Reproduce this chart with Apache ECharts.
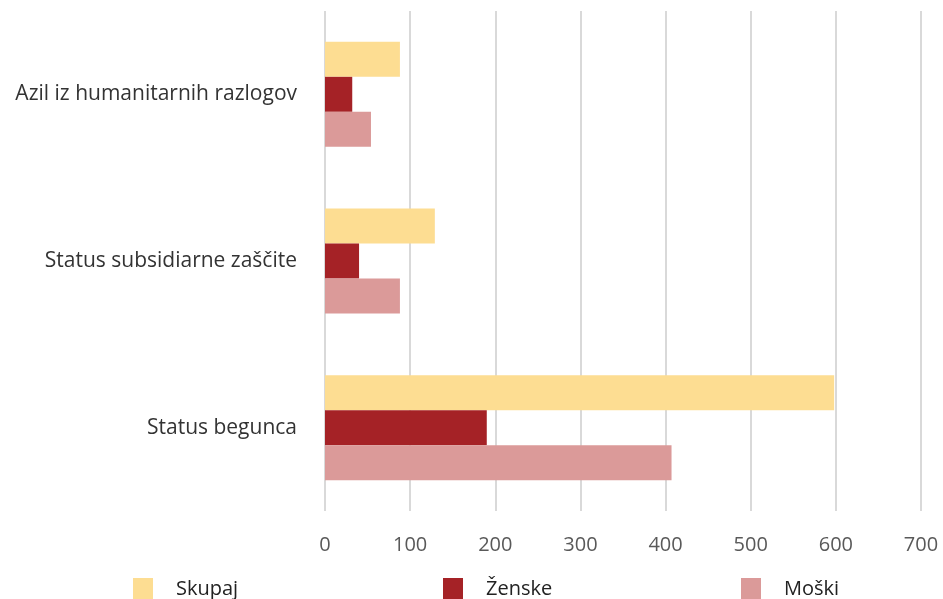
<!DOCTYPE html>
<html>
<head>
<meta charset="utf-8">
<script src="https://cdn.jsdelivr.net/npm/echarts@6/dist/echarts.min.js"></script>
<style>
html, body { margin: 0; padding: 0; background: #fff; }
#chart { width: 943px; height: 599px; }
</style>
</head>
<body>
<div id="chart"></div>
<script>
// kategorije od spodaj navzgor
let categories = ['Status begunca', 'Status subsidiarne zaščite', 'Azil iz humanitarnih razlogov'];
let skupaj = [598, 129, 88];
let zenske = [190, 40, 32];
let moski = [407, 88, 54];
let xTicks = [0, 100, 200, 300, 400, 500, 600, 700];

let font = 'Open Sans';
let mychart = echarts.init(document.getElementById('chart'));

function legendAt(name, left) {
    return {
        data: [name],
        left: left,
        top: 573,
        itemWidth: 20,
        itemHeight: 22,
        itemGap: 20,
        icon: 'rect',
        textStyle: { fontFamily: font, fontSize: 20, color: '#222', padding: [0, 0, 0, 18] }
    };
}

let option = {
    animation: false,
    legend: [
        legendAt('Skupaj', 128),
        legendAt('Ženske', 438),
        legendAt('Moški', 736)
    ],
    grid: {
        left: 325,
        right: 22,
        top: 11,
        bottom: 88,
        containLabel: false
    },
    xAxis: {
        type: 'value',
        min: xTicks[0],
        max: xTicks[xTicks.length - 1],
        interval: 100,
        axisLine: { show: false },
        axisTick: { show: false },
        axisLabel: { fontFamily: font, fontSize: 20, color: '#595959', margin: 24 },
        splitLine: { lineStyle: { color: '#d9d9d9', width: 2 } }
    },
    yAxis: {
        type: 'category',
        data: categories,
        axisLine: { show: false },
        axisTick: { show: false },
        axisLabel: { fontFamily: font, fontSize: 21, color: '#333', margin: 28 }
    },
    series: [
        {
            name: 'Skupaj',
            type: 'bar',
            data: skupaj,
            barGap: '0%',
            barCategoryGap: '37%',
            itemStyle: { color: '#fddd92' }
        },
        {
            name: 'Ženske',
            type: 'bar',
            data: zenske,
            barGap: '0%',
            barCategoryGap: '37%',
            itemStyle: { color: '#a52226' }
        },
        {
            name: 'Moški',
            type: 'bar',
            data: moski,
            barGap: '0%',
            barCategoryGap: '37%',
            itemStyle: { color: '#db9a99' }
        }
    ]
};
mychart.setOption(option);
</script>
</body>
</html>
